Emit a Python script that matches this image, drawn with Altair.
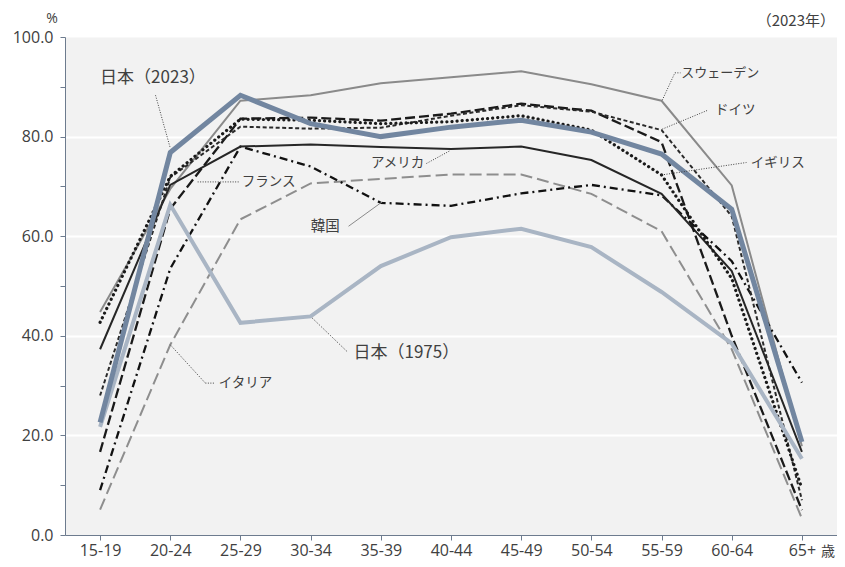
import altair as alt
import pandas as pd

# ---- data ----
ages = ["15-19", "20-24", "25-29", "30-34", "35-39", "40-44", "45-49", "50-54", "55-59", "60-64", "65+"]

japan_2023 = [22.6, 76.8, 88.3, 82.6, 80.0, 81.9, 83.3, 80.9, 76.5, 65.4, 18.7]
japan_1975 = [21.7, 66.3, 42.6, 43.9, 54.0, 59.8, 61.5, 57.8, 48.8, 38.5, 15.3]
sweden     = [44.8, 69.5, 87.2, 88.3, 90.7, 91.9, 93.1, 90.5, 87.2, 70.2, 17.8]
germany    = [28.0, 71.8, 82.0, 81.6, 81.8, 84.2, 86.3, 85.0, 81.3, 64.0, 7.0]
france     = [16.7, 65.5, 83.6, 83.8, 83.2, 84.6, 86.6, 85.2, 78.9, 40.0, 5.0]
uk         = [42.7, 72.0, 83.5, 83.3, 82.6, 83.0, 84.2, 81.3, 72.3, 51.5, 9.3]
usa        = [37.3, 70.3, 78.0, 78.4, 77.9, 77.5, 78.0, 75.3, 68.5, 53.0, 16.7]
korea      = [9.0, 53.5, 78.0, 74.0, 66.7, 66.1, 68.6, 70.3, 68.2, 55.0, 30.6]
italy      = [5.1, 38.2, 63.4, 70.6, 71.5, 72.4, 72.4, 68.5, 61.0, 37.3, 3.3]

series = [
    ("スウェーデン", sweden),
    ("イタリア", italy),
    ("韓国", korea),
    ("アメリカ", usa),
    ("フランス", france),
    ("ドイツ", germany),
    ("イギリス", uk),
    ("日本（1975）", japan_1975),
    ("日本（2023）", japan_2023),
]

# line styles per series
styles = {
    "スウェーデン": dict(color="#8a8a8a", strokeWidth=2),
    "イタリア": dict(color="#8e8e8e", strokeWidth=2, strokeDash=[12, 5]),
    "韓国": dict(color="#111111", strokeWidth=2.3, strokeDash=[8, 4, 2, 4]),
    "アメリカ": dict(color="#262626", strokeWidth=2),
    "フランス": dict(color="#1a1a1a", strokeWidth=2.3, strokeDash=[10, 4]),
    "ドイツ": dict(color="#2a2a2a", strokeWidth=2, strokeDash=[4, 2.5]),
    "イギリス": dict(color="#1a1a1a", strokeWidth=3.2, strokeDash=[0.1, 5], strokeCap="round"),
    "日本（1975）": dict(color="#a9b5c4", strokeWidth=4),
    "日本（2023）": dict(color="#7286a0", strokeWidth=5),
}

# annotation labels: text, x position (age index), value, font size
ann_text = ["日本（2023）", "フランス", "アメリカ", "韓国", "日本（1975）", "イタリア", "スウェーデン", "ドイツ", "イギリス"]
ann_x    = [0.0, 2.02, 3.86, 3.00, 3.61, 1.69, 8.28, 8.76, 9.27]
ann_v    = [91.7, 70.9, 74.6, 61.9, 36.6, 30.5, 92.8, 85.3, 74.6]
ann_size = [17, 13.5, 13.5, 14.5, 17, 13.5, 13, 13.5, 13.5]

# leader segments: x, v, x2, v2, kind
lead_x  = [0.79, 1.39, 4.65, 3.54, 3.02, 1.00, 1.50, 8.01, 8.19, 8.01, 8.00]
lead_v  = [88.3, 70.9, 74.6, 62.0, 43.6, 38.2, 30.5, 87.3, 92.8, 81.5, 72.3]
lead_x2 = [1.00, 1.99, 4.99, 4.02, 3.53, 1.50, 1.64, 8.19, 8.27, 8.66, 9.21]
lead_v2 = [77.7, 70.9, 77.2, 66.9, 36.7, 30.5, 30.5, 92.8, 92.8, 85.3, 74.8]
lead_kind = ["dot", "dot", "dot", "solid", "dot", "dot", "dot", "dot", "dot", "dot", "dot"]

# ---- build ----
FONT = "Open Sans, Noto Sans CJK JP, sans-serif"
JFONT = "Noto Sans CJK JP, sans-serif"
AX = "#6d7b8e"
TXT = "#404040"
W, H = 772, 498

rows = []
for name, vals in series:
    for i, v in enumerate(vals):
        rows.append({"series": name, "i": i, "v": v})
df = pd.DataFrame(rows)

xscale = alt.Scale(domain=[-0.5, 10.5], nice=False, zero=False)
yscale = alt.Scale(domain=[0, 100], nice=False)

label_expr = "[" + ",".join("'%s'" % a for a in ages) + "][datum.value]"

xaxis = alt.Axis(values=list(range(len(ages))), labelExpr=label_expr, grid=False,
                 domainColor=AX, tickColor=AX, tickSize=5, labelFontSize=16,
                 labelColor=TXT, labelPadding=2, title=None, labelFont=FONT,
                 labelFontWeight="normal")
yaxis = alt.Axis(values=list(range(0, 101, 10)),
                 labelExpr="datum.value % 20 == 0 ? format(datum.value, '.1f') : ''",
                 grid=True, gridColor="white", gridWidth=2,
                 gridOpacity={"condition": {"test": "datum.value % 20 == 0 && datum.value > 0 && datum.value < 100", "value": 1}, "value": 0},
                 domainColor=AX, tickColor=AX, tickSize=5, labelFontSize=16,
                 labelColor=TXT, labelPadding=7, title=None, labelFont=FONT)

layers = []
for name, _ in series:
    sub = df[df["series"] == name]
    layers.append(
        alt.Chart(sub).mark_line(**styles[name]).encode(
            x=alt.X("i:Q", scale=xscale, axis=xaxis),
            y=alt.Y("v:Q", scale=yscale, axis=yaxis),
        )
    )

lead_df = pd.DataFrame({"x": lead_x, "v": lead_v, "x2": lead_x2, "v2": lead_v2, "kind": lead_kind})
leaders_dot = alt.Chart(lead_df[lead_df["kind"] == "dot"]).mark_rule(
    color="#404040", strokeWidth=1, strokeDash=[1, 1.5]
).encode(x=alt.X("x:Q", scale=xscale), y=alt.Y("v:Q", scale=yscale), x2="x2:Q", y2="v2:Q")
leaders_solid = alt.Chart(lead_df[lead_df["kind"] == "solid"]).mark_rule(
    color="#8a8a8a", strokeWidth=1
).encode(x=alt.X("x:Q", scale=xscale), y=alt.Y("v:Q", scale=yscale), x2="x2:Q", y2="v2:Q")

ann_df = pd.DataFrame({"t": ann_text, "x": ann_x, "v": ann_v, "fs": ann_size})
ann = alt.Chart(ann_df).mark_text(align="left", baseline="middle", font=JFONT, color=TXT).encode(
    x=alt.X("x:Q", scale=xscale), y=alt.Y("v:Q", scale=yscale), text="t:N",
    size=alt.Size("fs:Q", scale=None, legend=None),
)

pct = alt.Chart(pd.DataFrame({"t": ["%"]})).mark_text(align="center", baseline="middle", font=FONT, fontSize=14, color=TXT).encode(
    x=alt.value(-13), y=alt.value(-18), text="t:N")
yr = alt.Chart(pd.DataFrame({"t": ["（2023年）"]})).mark_text(align="right", baseline="middle", font=JFONT, fontSize=15, color=TXT).encode(
    x=alt.value(770), y=alt.value(-16), text="t:N")
sai = alt.Chart(pd.DataFrame({"t": ["歳"]})).mark_text(align="center", baseline="middle", font=JFONT, fontSize=14, color=TXT).encode(
    x=alt.value(763), y=alt.value(17 + H), text="t:N")

chart = alt.layer(*layers, leaders_dot, leaders_solid, ann, pct, yr, sai).properties(
    width=W, height=H,
    autosize=alt.AutoSizeParams(type="none"),
    padding={"left": 57, "top": 29, "right": 0, "bottom": 24},
    background="white",
).configure_view(fill="#f2f2f2", strokeOpacity=0)

chart.save("out.html", embed_options={"renderer": "svg", "actions": False})
